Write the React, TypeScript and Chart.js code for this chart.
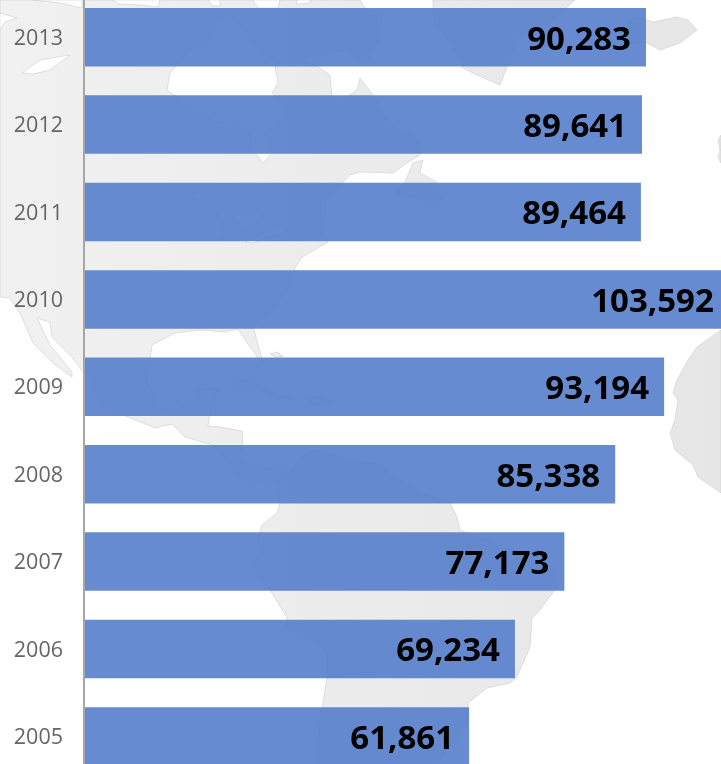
import React, { useEffect, useRef } from "react";
import { Chart, registerables } from "chart.js";

Chart.register(...registerables);

const years = ["2013", "2012", "2011", "2010", "2009", "2008", "2007", "2006", "2005"];
const values = [90283, 89641, 89464, 103592, 93194, 85338, 77173, 69234, 61861];

// Decorative backdrop only (a rough world map behind the bars), in page pixels.
type Pt = [number, number];
const americas: Pt[] = [
  [0,0],[360,0],[365,8],[383,14],[378,40],[365,65],[345,50],[325,55],[300,60],[317,66],[330,75],[332,97],[345,98],[357,90],[360,78],
  [373,95],[383,113],[393,127],[410,133],[421,147],[420,155],[407,163],[393,173],[360,172],[350,175],[343,182],[327,197],[323,230],[328,242],
  [302,257],[295,268],[288,290],[270,310],[253,325],[258,345],[263,362],[258,358],[245,340],[238,329],[225,332],[200,330],[175,333],[152,345],
  [150,360],[147,380],[157,407],[173,410],[193,403],[197,390],[218,388],[210,415],[208,426],[220,427],[242,431],[243,444],[238,458],[253,472],
  [267,468],[290,473],[300,457],[317,450],[360,462],[383,465],[390,475],[420,492],[450,503],[457,517],[460,530],[493,543],[553,567],[557,587],
  [540,610],[532,618],[530,647],[517,677],[510,683],[487,688],[468,703],[468,723],[437,763],[430,770],[315,770],[320,723],[323,703],[327,677],
  [327,653],[317,643],[287,628],[287,618],[270,590],[257,573],[253,562],[263,550],[257,543],[262,525],[277,513],[280,503],[277,480],[257,483],
  [240,477],[227,460],[213,445],[185,437],[172,424],[155,428],[123,415],[97,400],[95,380],[83,372],[72,357],[52,337],[50,322],[37,318],[50,345],
  [72,372],[72,377],[53,363],[33,343],[20,313],[10,298],[0,297],
];
const greenland: Pt[] = [[433,0],[433,7],[435,23],[450,43],[463,68],[477,75],[500,85],[507,67],[517,37],[550,23],[567,7],[575,0]];
const iceland: Pt[] = [[627,30],[633,17],[647,20],[653,22],[677,17],[688,20],[697,30],[680,43],[660,50],[647,43],[630,43]];
const africa: Pt[] = [[721,330],[697,347],[688,360],[677,380],[673,393],[678,400],[675,420],[670,433],[675,450],[693,465],[698,477],[721,493]];
const britain: Pt[] = [[721,135],[718,140],[720,150],[718,158],[721,163]];
const newfoundland: Pt[] = [[405,182],[413,163],[423,160],[420,173],[437,182],[441,200],[425,200],[397,193],[400,187]];
const cuba: Pt[] = [[233,385],[253,385],[277,397],[293,400],[273,392],[250,380],[235,381]];
const hispaniola: Pt[] = [[305,398],[320,396],[335,403],[318,405],[308,403]];
const bahamas: Pt[] = [[270,354],[277,352],[283,356],[277,358]];
const landParts = [americas, greenland, iceland, africa, britain, newfoundland, cuba, hispaniola, bahamas];

const hudsonBay: Pt[] = [
  [218,20],[213,37],[190,50],[170,73],[167,90],[177,97],[183,108],[213,120],[248,130],[253,150],[263,163],[272,153],[265,133],[285,117],
  [283,103],[272,93],[278,83],[275,66],[277,60],[260,52],[245,30],[235,20],
];
const waterParts: Pt[][] = [
  hudsonBay,
  [[33,0],[82,0],[82,8],[60,3]],
  [[113,0],[160,0],[158,7],[140,5],[118,4]],
  [[208,0],[220,0],[220,6],[213,6]],
  [[253,0],[280,0],[278,8],[258,8]],
  [[297,0],[310,0],[310,3],[297,4]],
  [[0,13],[17,18],[5,22],[0,30]],
  [[22,73],[40,60],[70,55],[50,70],[33,74]],
  [[188,198],[213,185],[222,193],[200,200]],
  [[213,240],[217,212],[222,238]],
  [[245,242],[287,223],[287,230],[253,243]],
  [[232,215],[255,208],[262,218],[245,230]],
];

const CANVAS_TOP = -50;

const mapBackdrop = {
  id: "mapBackdrop",
  beforeDraw(chart: Chart) {
    const { ctx } = chart;
    const trace = (points: Pt[]) => {
      ctx.beginPath();
      points.forEach(([x, y], i) => (i ? ctx.lineTo(x, y) : ctx.moveTo(x, y)));
      ctx.closePath();
    };
    const land = ctx.createLinearGradient(0, 0, 721, 0);
    land.addColorStop(0, "#f1f1f1");
    land.addColorStop(1, "#e6e6e6");
    ctx.save();
    ctx.translate(0, -CANVAS_TOP);
    ctx.lineWidth = 0.5;
    ctx.lineJoin = "round";
    ctx.strokeStyle = "#c4c4c4";
    for (const part of landParts) {
      trace(part);
      ctx.fillStyle = land;
      ctx.fill();
      ctx.stroke();
    }
    for (const part of waterParts) {
      trace(part);
      ctx.fillStyle = "#ffffff";
      ctx.fill();
      ctx.stroke();
    }
    ctx.restore();
  },
};

const valueLabels = {
  id: "valueLabels",
  afterDatasetsDraw(chart: Chart) {
    const { ctx } = chart;
    const meta = chart.getDatasetMeta(0);
    ctx.save();
    ctx.font = "bold 33px 'Open Sans'";
    ctx.fillStyle = "#000000";
    ctx.textAlign = "right";
    ctx.textBaseline = "middle";
    meta.data.forEach((bar: any, i: number) => {
      ctx.fillText(values[i].toLocaleString("en-US"), bar.x - 15, bar.y + 3);
    });
    ctx.restore();
  },
};

export default function App() {
  const ref = useRef<HTMLCanvasElement | null>(null);

  useEffect(() => {
    if (!ref.current) return;
    const chart = new Chart(ref.current, {
      type: "bar",
      data: {
        labels: years,
        datasets: [
          {
            data: values,
            backgroundColor: "rgba(86,126,203,0.9)",
            borderWidth: 0,
            categoryPercentage: 1,
            barPercentage: 0.669,
          },
        ],
      },
      options: {
        indexAxis: "y",
        animation: false,
        responsive: false,
        devicePixelRatio: 1,
        layout: { padding: { top: 43.5, bottom: 49.9, left: 0, right: 0 } },
        plugins: { legend: { display: false }, tooltip: { enabled: false }, title: { display: false } },
        scales: {
          x: { display: false, min: 0, max: 108600, grid: { display: false } },
          y: {
            afterFit(scale: any) {
              scale.width = 84;
            },
            grid: { display: false, drawTicks: false },
            border: { display: true, color: "#a6a6a6", width: 2, z: 1 },
            ticks: {
              padding: 21,
              labelOffset: 1.5,
              color: "#666666",
              font: { family: "'Open Sans'", size: 21.5 },
            },
          },
        },
      },
      plugins: [mapBackdrop, valueLabels],
    } as any);
    return () => chart.destroy();
  }, []);

  return (
    <div style={{ position: "fixed", left: 0, top: 0, width: 721, height: 764, overflow: "hidden", background: "#ffffff" }}>
      <canvas ref={ref} width={760} height={880} style={{ position: "absolute", left: 0, top: CANVAS_TOP, width: 760, height: 880 }} />
    </div>
  );
}
